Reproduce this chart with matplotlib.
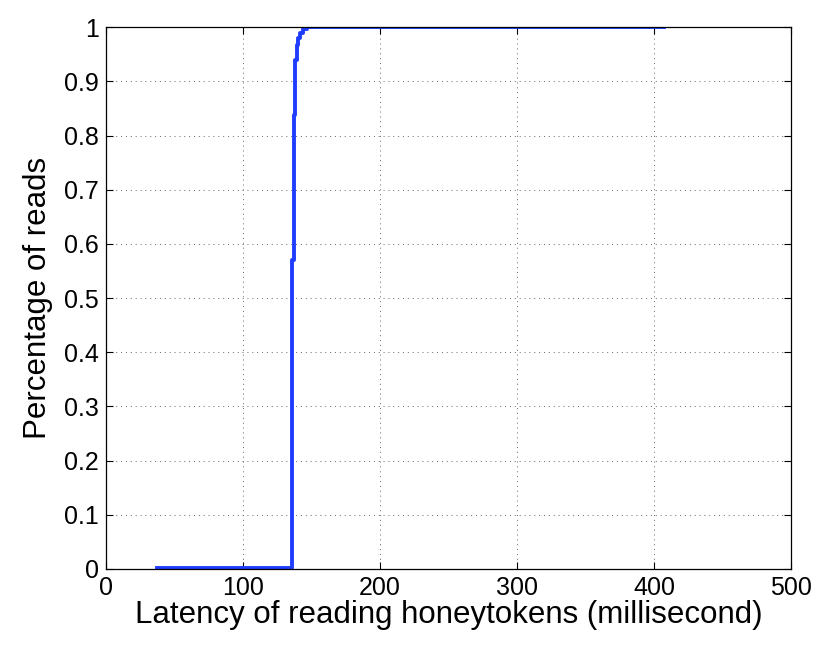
import matplotlib
matplotlib.use("Agg")
import matplotlib.pyplot as plt

# latency CDF
latency_ms = [37, 135.8, 137.2, 138.0, 139.2, 140.0, 141.6, 143.5, 146.5, 407]
frac_reads = [0.002, 0.570, 0.838, 0.939, 0.967, 0.980, 0.990, 0.996, 1.0, 1.0]

x_ticks = [0, 100, 200, 300, 400, 500]
y_ticks = [0, 0.1, 0.2, 0.3, 0.4, 0.5, 0.6, 0.7, 0.8, 0.9, 1]
y_labels = ["0", "0.1", "0.2", "0.3", "0.4", "0.5", "0.6", "0.7", "0.8", "0.9", "1"]

plt.rcParams["font.family"] = ["Liberation Sans", "DejaVu Sans"]

fig = plt.figure(figsize=(8.31, 6.48), dpi=100)
ax = fig.add_axes([0.1276, 0.122, 0.8244, 0.836])

ax.plot(latency_ms, frac_reads, drawstyle="steps-post", color="#1f3dff", linewidth=2.8)

ax.set_xlim(0, 500)
ax.set_ylim(0, 1)
ax.set_xticks(x_ticks)
ax.set_yticks(y_ticks)
ax.set_yticklabels(y_labels)
ax.tick_params(direction="in", labelsize=18, length=5, top=True, right=True, pad=5)
ax.grid(True, color="#666666", linestyle=(0, (1, 4)), linewidth=0.7)
for s in ax.spines.values():
    s.set_linewidth(0.9)

ax.set_xlabel("Latency of reading honeytokens (millisecond)", fontsize=22.5, labelpad=0)
ax.set_ylabel("Percentage of reads", fontsize=22.5, labelpad=8)

fig.savefig("out.png", dpi=100)
